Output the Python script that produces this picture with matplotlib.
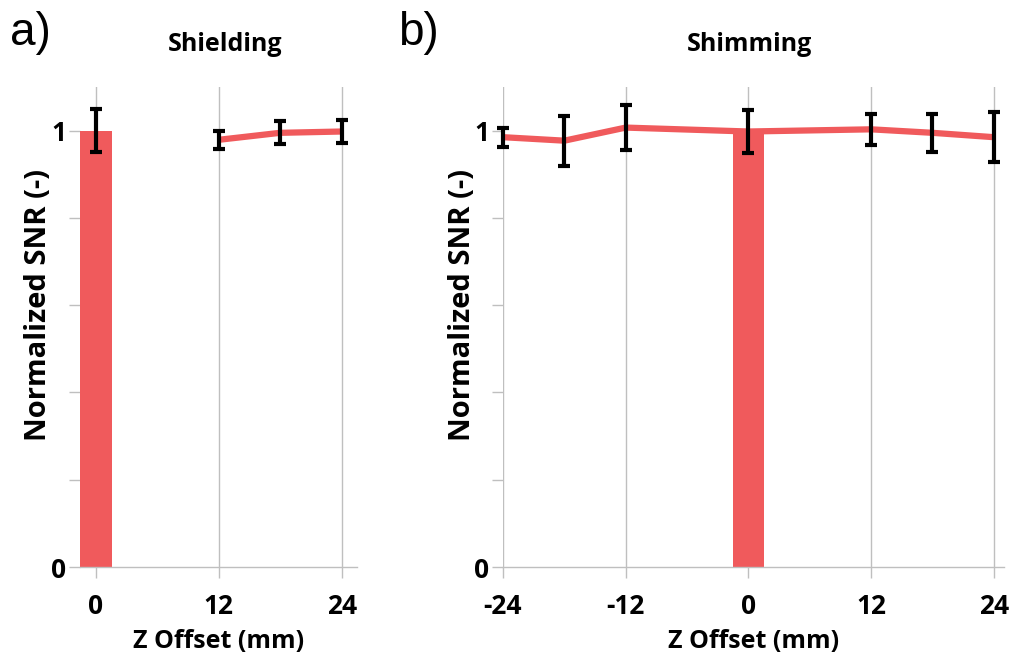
import matplotlib.pyplot as plt
import numpy as np

plt.rcParams['font.family'] = ['Open Sans', 'DejaVu Sans']

# a) shielding: reference bar at 0, measurements at 12..24 mm
shield_bar_x = [0]
shield_bar_snr = [1.0]
shield_bar_err = [0.049]
shield_x = [12, 18, 24]
shield_snr = [0.979, 0.995, 0.998]
shield_err = [0.021, 0.026, 0.026]

# b) shimming
shim_bar_x = [0]
shim_bar_snr = [1.0]
shim_x = [-24, -18, -12, 0, 12, 18, 24]
shim_snr = [0.985, 0.977, 1.007, 0.998, 1.003, 0.995, 0.985]
shim_err = [0.022, 0.057, 0.051, 0.050, 0.036, 0.044, 0.058]

y_ticks = [0, 0.2, 0.4, 0.6, 0.8, 1.0]
y_labels = ['0', '', '', '', '', '1']

red = '#F05A5C'
gray = '#BFBFBF'

fig = plt.figure(figsize=(10.2, 6.7), dpi=100)
W, H = 1020, 670
ax1 = fig.add_axes([80 / W, 103 / H, 277 / W, 480 / H])
ax2 = fig.add_axes([503 / W, 103 / H, 501 / W, 480 / H])


def style(ax, xticks, xlim, title, title_x):
    ax.set_xlim(*xlim)
    ax.set_ylim(0, 1.1)
    ax.set_xticks(xticks)
    ax.set_xticklabels([str(t) for t in xticks])
    ax.set_yticks(y_ticks)
    ax.set_yticklabels(y_labels)
    for s in ['top', 'right', 'left']:
        ax.spines[s].set_visible(False)
    ax.spines['bottom'].set_color(gray)
    ax.spines['bottom'].set_linewidth(1)
    ax.tick_params(axis='both', color=gray, length=8, width=1,
                   labelsize=19, pad=2)
    ax.tick_params(axis='x', pad=11)
    for lab in ax.get_xticklabels() + ax.get_yticklabels():
        lab.set_fontweight('bold')
    ax.grid(axis='x', color=gray, linewidth=1)
    ax.set_axisbelow(True)
    ax.set_title(title, fontsize=18, fontweight='bold', pad=26, x=title_x)
    ax.set_xlabel('Z Offset (mm)', fontsize=18, fontweight='bold', labelpad=6)
    ax.set_ylabel('Normalized SNR (-)', fontsize=21, fontweight='bold')


# panel a
ax1.bar(shield_bar_x, shield_bar_snr, width=3.1, color=red, zorder=2)
ax1.errorbar(shield_bar_x, shield_bar_snr, yerr=shield_bar_err, fmt='none',
             ecolor='black', elinewidth=3, capsize=4, capthick=3, zorder=4)
ax1.plot(shield_x, shield_snr, color=red, linewidth=4.5, zorder=3,
         solid_capstyle='butt')
ax1.errorbar(shield_x, shield_snr, yerr=shield_err, fmt='none',
             ecolor='black', elinewidth=3, capsize=4, capthick=3, zorder=4)
style(ax1, [0, 12, 24], (-1.55, 25.5), 'Shielding', 0.523)
ax1.yaxis.set_label_coords(-0.098, 0.545)

# panel b
ax2.bar(shim_bar_x, shim_bar_snr, width=3.1, color=red, zorder=2)
ax2.plot(shim_x, shim_snr, color=red, linewidth=4.5, zorder=3,
         solid_capstyle='butt', clip_on=False)
ax2.errorbar(shim_x, shim_snr, yerr=shim_err, fmt='none', ecolor='black',
             elinewidth=3, capsize=4, capthick=3, zorder=4, clip_on=False)
style(ax2, [-24, -12, 0, 12, 24], (-24, 25), 'Shimming', 0.491)
ax2.yaxis.set_label_coords(-0.052, 0.545)

fig.text(10 / W, 1 - 33 / H, 'a)', fontsize=33, family='Liberation Sans',
         va='center', ha='left')
fig.text(398 / W, 1 - 33 / H, 'b)', fontsize=33, family='Liberation Sans',
         va='center', ha='left')

fig.savefig('out.png', dpi=100)
